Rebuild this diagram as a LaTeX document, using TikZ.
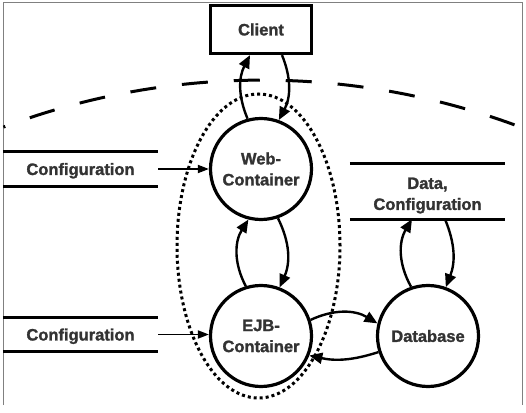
\documentclass[tikz,border=0pt]{standalone}
\usepackage{fontspec}
\setmainfont{Liberation Sans}[BoldFeatures={FakeBold=1.5}]
\usetikzlibrary{arrows.meta}
\definecolor{txt}{HTML}{333333}
\definecolor{framegray}{HTML}{808080}
\begin{document}
\begin{tikzpicture}[x=1pt,y=1pt,
  lbl/.style={font=\fontsize{16.5}{21}\selectfont\bfseries, text=txt, align=center, inner sep=0pt},
  proc/.style={lbl, circle, draw, line width=3.2pt, minimum size=101pt},
  store/.style={lbl, minimum width=155pt},
  storeline/.style={line width=3.2pt},
  flow/.style={line width=2.4pt, -{Triangle[length=13pt,width=11pt]}},
  inflow/.style={line width=1.8pt, -{Triangle[length=11pt,width=8pt]}},
]
\useasboundingbox (0,0) rectangle (526,412);
\draw[framegray, line width=1pt] (3,7) -- (3,409) -- (522,409) -- (522,7);

% boundary arcs
\draw[line width=3pt, dash pattern=on 26pt off 26pt, dash phase=24pt]
  (3.4,284.9) arc[start angle=110.6, end angle=69.3, radius=735pt];
\draw[line width=3pt, dash pattern=on 3pt off 3pt] (258.5,166) ellipse[x radius=81.5pt, y radius=152pt];

% nodes
\node[lbl, draw, line width=3.2pt, minimum width=101pt, minimum height=48pt] (client) at (261,382.5) {Client};
\node[proc] (web) at (261,243) {Web-\\Container};
\node[proc] (ejb) at (261,76) {EJB-\\Container};
\node[proc] (db) at (428,76) {Database};
\node[store, minimum height=34pt, text depth=0pt] (cfg1) at (80.5,243) {Configuration};
\node[store, minimum height=33pt, text depth=0pt] (cfg2) at (80.5,77.5) {Configuration};
\node[store, minimum height=55pt] (data) at (427.5,220.5) {};
\node[lbl] (datalbl) at ([yshift=-4pt]data.center) {Data,\\Configuration};

\foreach \s in {cfg1,cfg2,data}{
  \draw[storeline] (\s.north west) -- (\s.north east);
  \draw[storeline] (\s.south west) -- (\s.south east);
}

% flows
\draw[inflow] (cfg1.east) -- (web.west);
\draw[inflow] (cfg2.east) -- (cfg2.east -| ejb.west);
\draw[flow] (web.105) to[bend left=25] ([xshift=-11pt]client.south);
\draw[flow] ([xshift=21pt]client.south) to[bend left=25] (web.70);
\draw[flow] (ejb.107) to[bend left=30] (web.256);
\draw[flow] (web.289) to[bend left=25] (ejb.69);
\draw[flow] (db.109) to[bend left=30] ([xshift=-15.5pt]data.south);
\draw[flow] ([xshift=17.5pt]data.south) to[bend left=22] (db.70);
\draw[flow] (ejb.18) to[bend left=28] (db.166);
\draw[flow] (db.198) to[bend left=15] (ejb.-22);
\end{tikzpicture}
\end{document}
